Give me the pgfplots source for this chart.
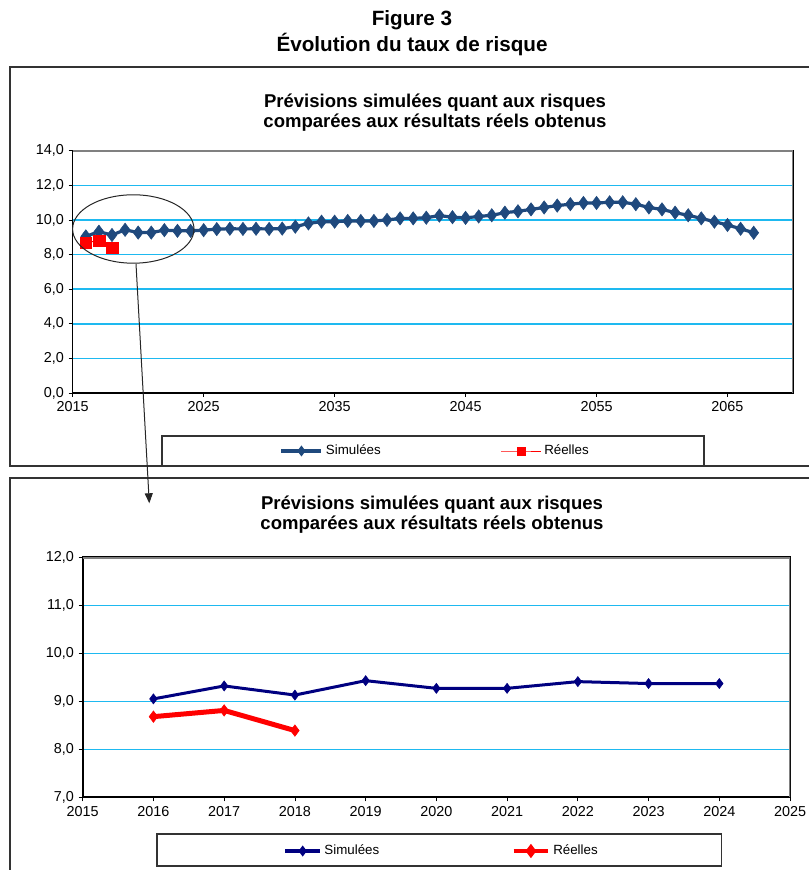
\documentclass[border=0pt]{standalone}
\usepackage{pgfplots}
\pgfplotsset{compat=1.18}
\usepackage{pgfplotstable}
\usepackage{fontspec}
\setmainfont{Liberation Sans}
\usetikzlibrary{arrows.meta}

\definecolor{simtop}{RGB}{31,73,125}
\definecolor{simbot}{RGB}{0,0,128}
\definecolor{gridc}{RGB}{30,185,240}
\definecolor{bordc}{RGB}{128,128,128}

\pgfplotstableread{
year val
2016 9.05
2017 9.32
2018 9.13
2019 9.43
2020 9.27
2021 9.27
2022 9.41
2023 9.37
2024 9.37
2025 9.41
2026 9.47
2027 9.49
2028 9.48
2029 9.49
2030 9.48
2031 9.50
2032 9.61
2033 9.80
2034 9.90
2035 9.90
2036 9.94
2037 9.94
2038 9.94
2039 10.00
2040 10.09
2041 10.09
2042 10.13
2043 10.25
2044 10.16
2045 10.12
2046 10.20
2047 10.27
2048 10.42
2049 10.50
2050 10.61
2051 10.72
2052 10.83
2053 10.91
2054 10.98
2055 10.98
2056 11.02
2057 11.02
2058 10.91
2059 10.72
2060 10.61
2061 10.42
2062 10.27
2063 10.09
2064 9.90
2065 9.71
2066 9.49
2067 9.26
}\simlong

\pgfplotstableread{
year val
2016 9.05
2017 9.32
2018 9.13
2019 9.43
2020 9.27
2021 9.27
2022 9.41
2023 9.37
2024 9.37
}\simshort

\pgfplotstableread{
year val
2016 8.68
2017 8.81
2018 8.39
}\reel

\pgfkeys{/pgf/number format/assume math mode=true}

\pgfplotsset{
  mystyle/.style={
    scale only axis,
    ymajorgrids,
    grid style={gridc, line width=1.2pt},
    tick align=outside,
    major tick length=3pt,
    xtick pos=left, ytick pos=left,
    tick style={black, line width=0.6pt},
    axis line style={black, line width=1pt},
    ticklabel style={font=\fontsize{10.8}{12}\selectfont},
    y tick label style={/pgf/number format/.cd, fixed, fixed zerofill, precision=1, use comma, /tikz/.cd},
    x tick label style={/pgf/number format/.cd, set thousands separator={}, /tikz/.cd},
    legend cell align=left,
    legend style={draw=none, fill=none, legend columns=2, font=\fontsize{10}{12}\selectfont, anchor=center},
  }
}

\begin{document}
\begin{tikzpicture}[x=0.75pt,y=0.75pt]
\useasboundingbox (0,0) rectangle (808,870);

\node[font=\fontsize{15.5}{18}\selectfont\bfseries] at (412,850) {Figure 3};
\node[font=\fontsize{15.5}{18}\selectfont\bfseries] at (412,825) {Évolution du taux de risque};

\draw[line width=1pt, black!80] (10,404) rectangle (840,803);
\draw[line width=1pt, black!80] (10,392) rectangle (840,-20);

\node[font=\fontsize{13.9}{15}\selectfont\bfseries, align=center] at (435,757) {Prévisions simulées quant aux risques\\comparées aux résultats réels obtenus};
\node[font=\fontsize{13.9}{15}\selectfont\bfseries, align=center] at (432,355) {Prévisions simulées quant aux risques\\comparées aux résultats réels obtenus};

\draw[line width=0.8pt, black!80] (162,404) rectangle (704,434);
\draw[line width=0.8pt, black!80] (157,4) rectangle (721.7,36);

\begin{axis}[mystyle,
  at={(54.525pt,357.75pt)}, anchor=south west,
  width=540.2pt, height=181.7pt,
  xmin=2015, xmax=2070, ymin=0, ymax=14,
  xtick={2015,2025,2035,2045,2055,2065},
  ytick={0,2,4,6,8,10,12,14},
  legend style={at={(0.5037,-0.2394)}, /tikz/every even column/.append style={column sep=88pt}},
  legend image code/.code={\draw[#1, mark repeat=2, mark phase=2] plot coordinates {(0pt,0pt) (15pt,0pt) (30pt,0pt)};},
]
\addplot[simtop, line width=2.4pt, mark=diamond*, mark size=5pt, mark options={solid, fill=simtop, draw=simtop, line width=0.4pt}, forget plot] table[x=year,y=val]{\simlong};
\addplot[red, line width=0.75pt, mark=square*, mark size=4.3pt, mark options={solid, fill=red, draw=red, line width=0.1pt}, forget plot] table[x=year,y=val]{\reel};
\addlegendimage{simtop, line width=2.8pt, mark=diamond*, mark size=1.8pt, mark options={fill=simtop}}
\addlegendentry{Simulées}
\addlegendimage{red, line width=0.6pt, mark=square*, mark size=3pt, mark options={fill=red}}
\addlegendentry{Réelles}
\draw[bordc, line width=1.6pt] (rel axis cs:0,1) -- (rel axis cs:1,1) -- (rel axis cs:1,0);
\end{axis}

\begin{axis}[mystyle,
  at={(62.025pt,54.525pt)}, anchor=south west,
  width=530.5pt, height=180pt,
  xmin=2015, xmax=2025, ymin=7, ymax=12,
  xtick={2015,2016,2017,2018,2019,2020,2021,2022,2023,2024,2025},
  ytick={7,8,9,10,11,12},
  axis line style={black, line width=1.5pt},
  legend style={at={(0.508,-0.2238)}, /tikz/every even column/.append style={column sep=97pt}},
  legend image code/.code={\draw[#1, mark repeat=2, mark phase=2] plot coordinates {(0pt,0pt) (13pt,0pt) (26pt,0pt)};},
]
\addplot[simbot, line width=2.25pt, mark=diamond*, mark size=3.8pt, mark options={solid, fill=simbot, draw=simbot, line width=0.4pt}, forget plot] table[x=year,y=val]{\simshort};
\addplot[red, line width=3.75pt, mark=diamond*, mark size=4.3pt, mark options={solid, fill=red, draw=red, line width=0.4pt}, forget plot] table[x=year,y=val]{\reel};
\addlegendimage{simbot, line width=2.6pt, mark=diamond*, mark size=2pt, mark options={fill=simbot}}
\addlegendentry{Simulées}
\addlegendimage{red, line width=3.5pt, mark=diamond*, mark size=2.5pt, mark options={fill=red}}
\addlegendentry{Réelles}
\draw[bordc, line width=2pt] (rel axis cs:0,1) -- (rel axis cs:1,1) -- (rel axis cs:1,0);
\end{axis}

\draw[line width=0.75pt, black!85] (133.3,641) ellipse [x radius=60.7, y radius=34.2];
\draw[line width=0.75pt, black!85, -{Triangle[length=7.5pt, width=6pt]}] (136,606) -- (149.3,366.7);
\end{tikzpicture}
\end{document}
